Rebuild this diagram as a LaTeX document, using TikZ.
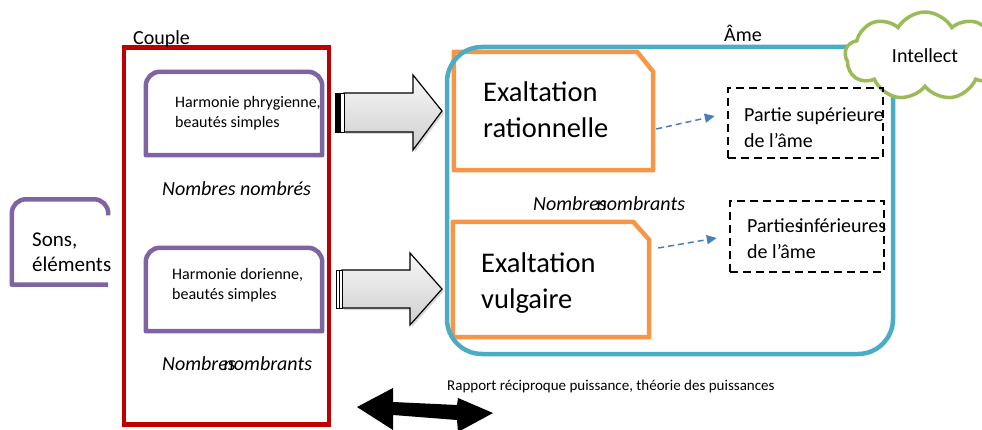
\documentclass[tikz,border=0pt]{standalone}
\usepackage{fontspec}
\setmainfont{Carlito}
\usetikzlibrary{shapes.symbols,shadows,arrows.meta,calc}
\definecolor{cred}{HTML}{C00000}
\definecolor{cpurple}{HTML}{8064A2}
\definecolor{cblue}{HTML}{4BACC6}
\definecolor{corange}{HTML}{F79646}
\definecolor{cgreen}{HTML}{9BBB59}
\definecolor{carrow}{HTML}{4A7EBB}
\begin{document}
\begin{tikzpicture}[x=1pt,y=-1pt,
  box/.style={draw=none, inner sep=0pt, rectangle},
  txt/.style={inner sep=0pt, align=left, anchor=west, text=black},
  lbl/.style={inner sep=0pt, anchor=base west, text=black},
  f20/.style={font=\fontsize{20}{26}\selectfont},
  fit20/.style={font=\itshape\fontsize{20}{24}\selectfont},
  purpleline/.style={draw=cpurple, line width=4.5pt, line join=round},
  orangeline/.style={draw=corange, line width=4.5pt, line join=round},
  dashbox/.style={draw=black, line width=2.5pt, dash pattern=on 8pt off 5pt, inner sep=0pt},
  dasharrow/.style={draw=carrow, line width=1.5pt, dash pattern=on 6pt off 4pt, -{Triangle[length=10pt,width=9pt]}},
  blockarrow/.style={draw=black, line width=1.2pt, line join=miter, top color=gray!6, bottom color=gray!38, drop shadow={opacity=0.3, shadow xshift=2pt, shadow yshift=-2pt}},
  strip/.style={draw=black, fill=white, line width=0.8pt}
]
\useasboundingbox (0,0) rectangle (982,430);

% Couple
\node[draw=cred, line width=4.5pt, minimum width=205pt, minimum height=377pt, inner sep=0pt] (couple) at (226.5,236) {};
\node[lbl, f20] (couplelbl) at (133,45) {Couple};

% purple boxes
\node[box, minimum width=176pt, minimum height=83pt] (phry) at (234,113.5) {};
\draw[purpleline] (phry.south west) [rounded corners=14pt] -- (phry.north west) -- (phry.north east) [sharp corners] -- (phry.south east) -- cycle;
\node[txt, font=\fontsize{16}{20}\selectfont] (phrytxt) at (175,113) {Harmonie phrygienne,\\beautés simples};

\node[box, minimum width=176pt, minimum height=83pt] (dori) at (234,289.5) {};
\draw[purpleline] (dori.south west) [rounded corners=14pt] -- (dori.north west) -- (dori.north east) [sharp corners] -- (dori.south east) -- cycle;
\node[txt, font=\fontsize{16}{20}\selectfont] (doritxt) at (172,285) {Harmonie dorienne,\\beautés simples};

\node[lbl, fit20] (nbtop) at (162,196) {Nombres nombrés};
\node[lbl, fit20] (nbbot) at (162,370) {Nombres\kern-16.5pt\ nombrants};

% Sons
\node[box, minimum width=96pt, minimum height=85pt] (sons) at (60,242) {};
\draw[purpleline] (sons.south east) -- (sons.south west) [rounded corners=14pt] -- (sons.north west) -- (sons.north east) -- ([yshift=-16pt]sons.north east);
\node[txt, font=\fontsize{21}{25}\selectfont] (sonstxt) at (32,252) {Sons,\\éléments};

% block arrows
\path[blockarrow] (344,93) -- (413,93) -- (413,75) -- (442,111) -- (413,150) -- (413,132) -- (344,132) -- cycle;
\filldraw[draw=black, fill=black, line width=0.8pt] (335,93) rectangle (340,132);
\draw[strip] (340,93) rectangle (344,132);

\path[blockarrow] (342,270) -- (410,270) -- (410,253) -- (442,289) -- (410,325) -- (410,308) -- (342,308) -- cycle;
\draw[strip] (336,270) rectangle (339,308);
\draw[strip] (339,270) rectangle (342,308);

% orange boxes
\node[box, minimum width=199pt, minimum height=118pt] (rat) at (553.5,111) {};
\draw[orangeline] (rat.south west) -- (rat.north west) -- ([xshift=-16pt]rat.north east) -- ([yshift=-20pt]rat.north east) -- (rat.south east) -- cycle;

\node[box, minimum width=196pt, minimum height=115pt] (vul) at (551,279.5) {};
\draw[orangeline] (vul.south west) -- (vul.north west) -- ([xshift=-16pt]vul.north east) -- ([yshift=-18pt]vul.north east) -- (vul.south east) -- cycle;

% Ame box
\node[draw=cblue, line width=4.5pt, rounded corners=35pt, minimum width=446pt, minimum height=307pt, inner sep=0pt] (ame) at (670,200.5) {};
\node[lbl, f20] (amelbl) at (724,42) {Âme};

% cloud
\node[cloud, cloud puffs=9, cloud puff arc=120, aspect=1.7, draw=cgreen, line width=3.5pt, fill=white, minimum width=160pt, minimum height=88pt, inner sep=0pt, font=\fontsize{20}{24}\selectfont] (intellect) at (925,56) {Intellect};

% dashed boxes
\node[dashbox, minimum width=155pt, minimum height=70pt] (sup) at (805.5,123) {};
\node[dashbox, minimum width=154pt, minimum height=71pt] (inf) at (807,236.5) {};

\draw[dasharrow] ([shift={(3pt,-18pt)}]rat.east) -- ([shift={(-12pt,7pt)}]sup.west);
\draw[dasharrow] ([shift={(9pt,31.5pt)}]vul.east) -- ([shift={(-12pt,-1.5pt)}]inf.west);

% texts
\node[txt, font=\fontsize{28.5}{36}\selectfont] (rattxt) at (483,110) {Exaltation\\rationnelle};
\node[txt, font=\fontsize{28.5}{36}\selectfont] (vultxt) at (481,283) {Exaltation\\vulgaire};
\node[lbl, fit20] (nbmid) at (533,211) {Nombres\kern-14.5pt\ nombrants};
\node[txt, f20] (suptxt) at (744,128) {Partie supérieure\\de l’âme};
\node[txt, f20] (inftxt) at (747,239) {Parties\kern-8pt\ inférieures\\de l’âme};

% bottom double arrow
\fill[black] (357,407) -- (393,388) -- (393,402) -- (457,405) -- (458,398) -- (493,413) -- (458,432) -- (457,420) -- (393,415) -- (393,430) -- cycle;
\node[lbl, font=\fontsize{15}{18}\selectfont] (rapport) at (447,390) {Rapport réciproque puissance, théorie des puissances};
\end{tikzpicture}
\end{document}
